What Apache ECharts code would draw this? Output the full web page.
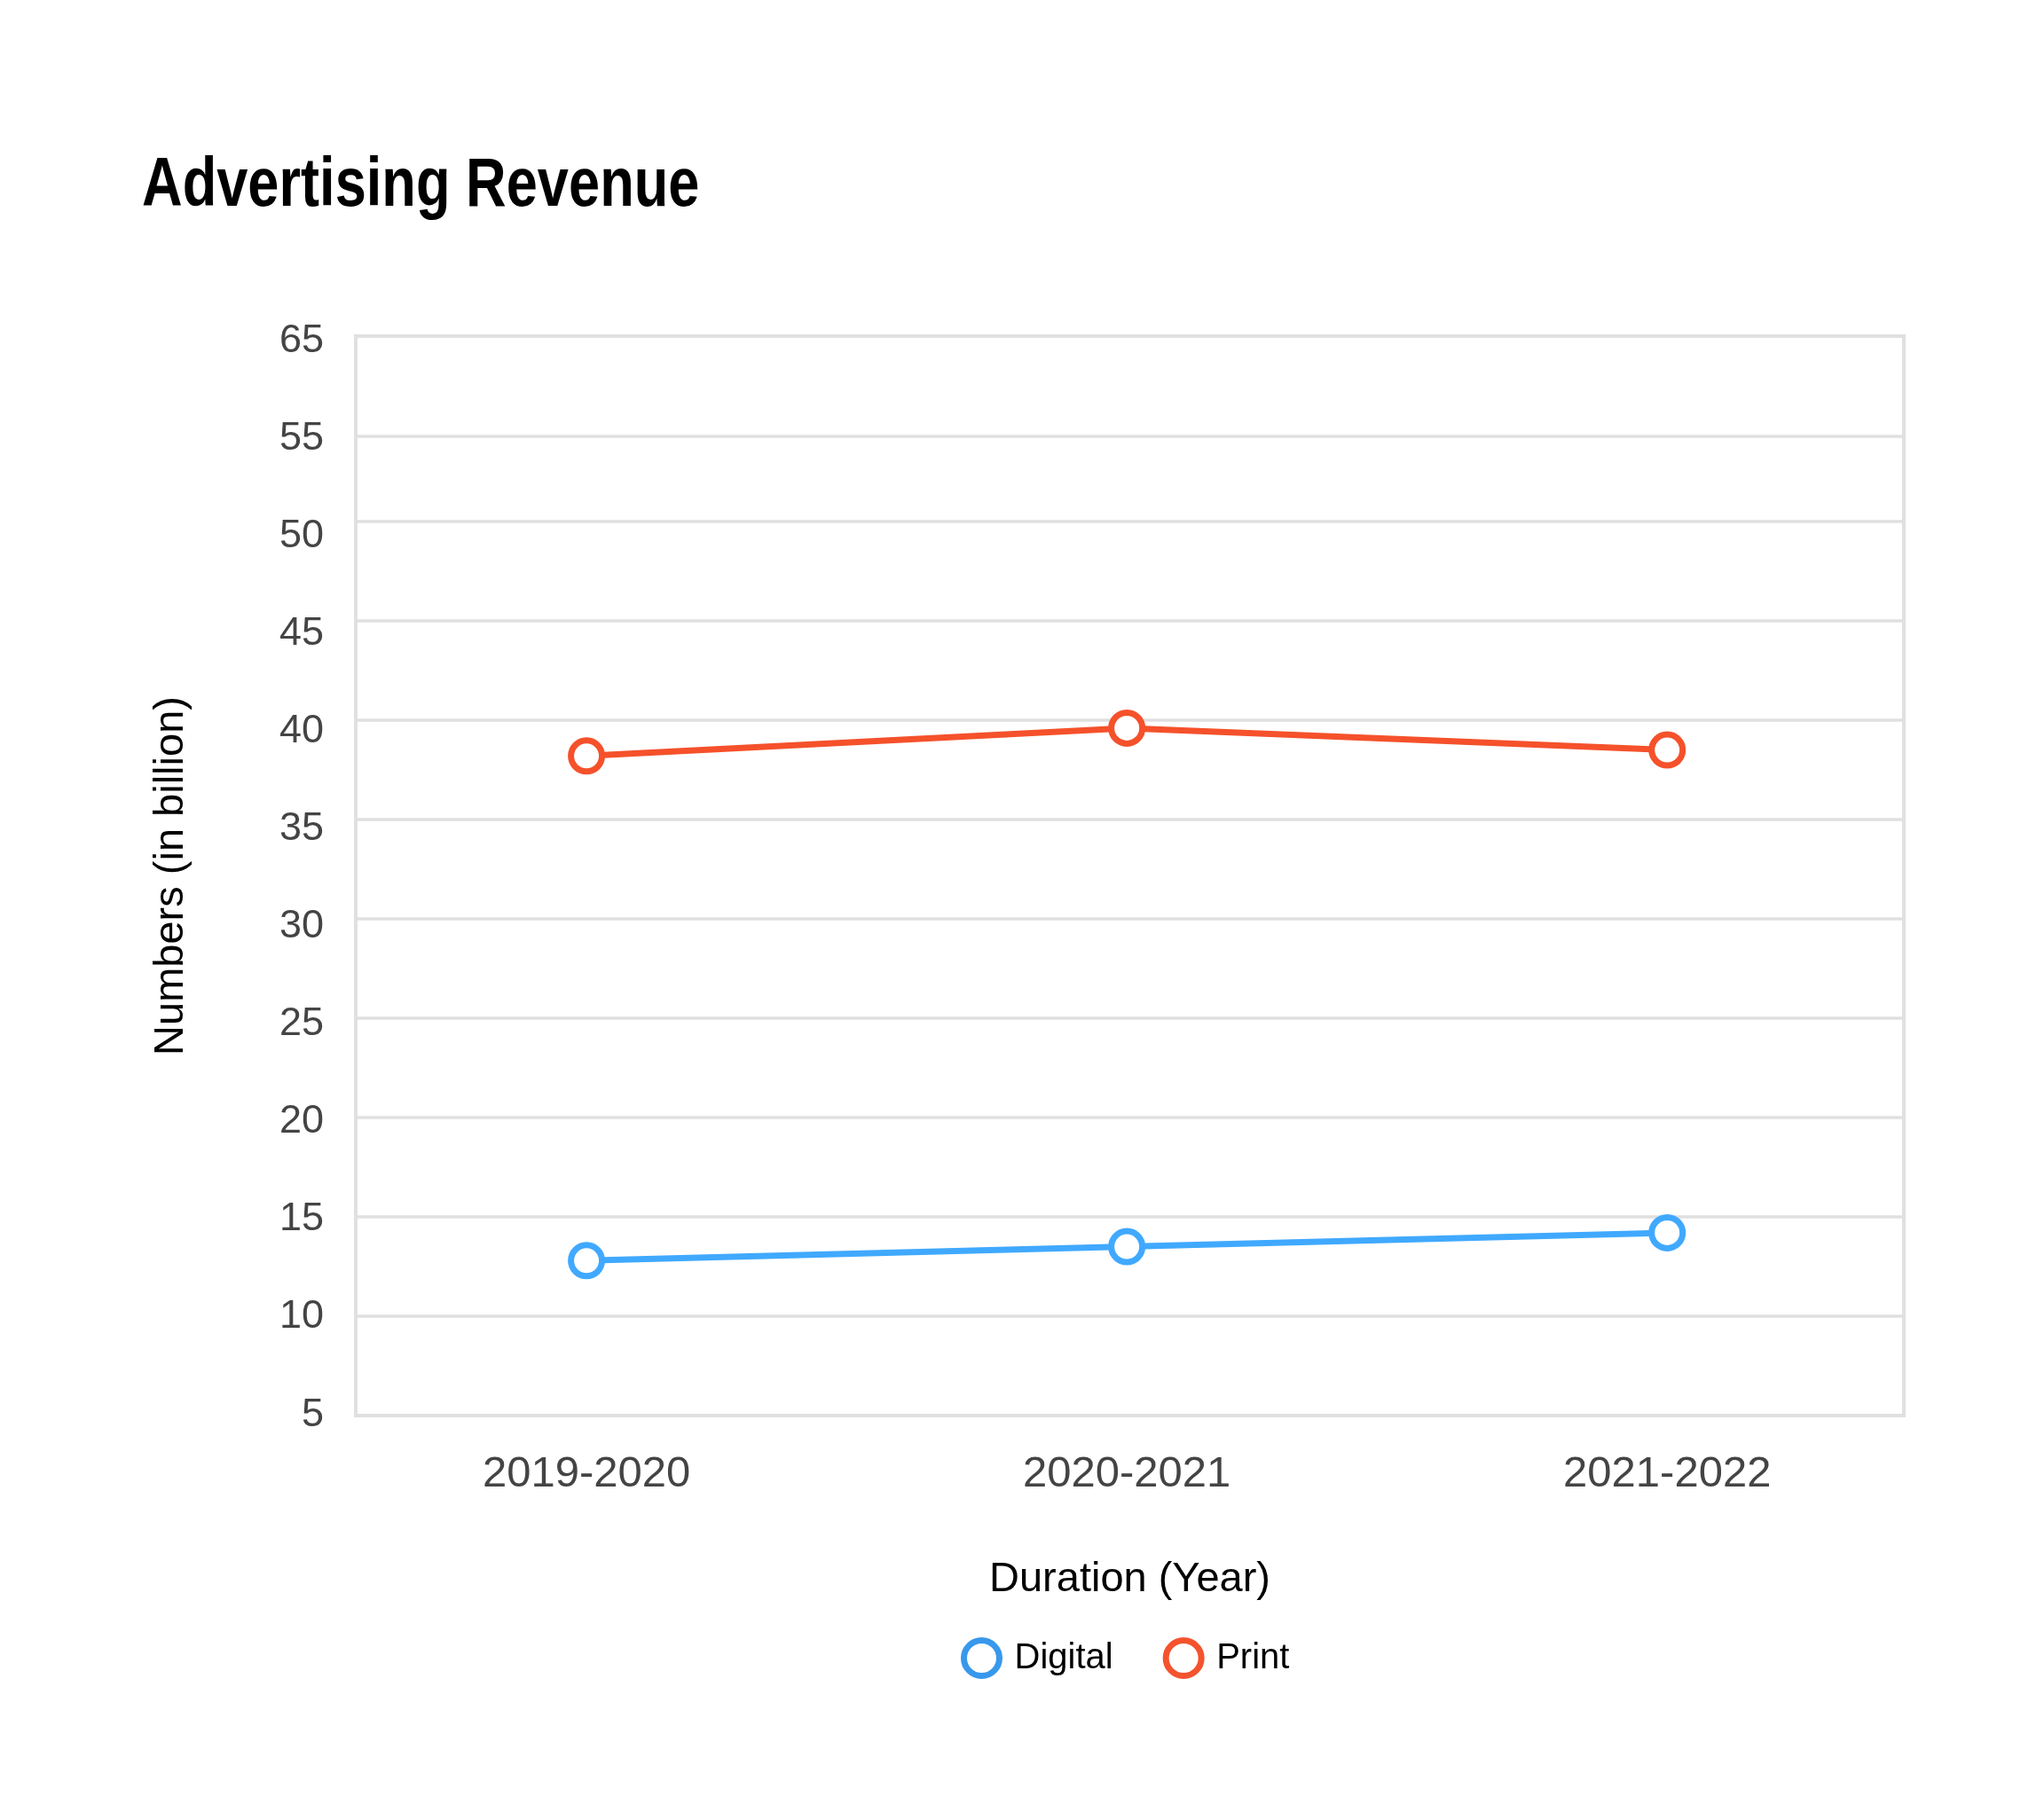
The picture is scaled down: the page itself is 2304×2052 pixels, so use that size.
<!DOCTYPE html>
<html>
<head>
<meta charset="utf-8">
<title>Advertising Revenue</title>
<script src="https://cdn.jsdelivr.net/npm/echarts@6/dist/echarts.min.js"></script>
<style>
    html, body { margin: 0; padding: 0; background: #fff; }
    #container { width: 2304px; height: 2052px; }
</style>
</head>
<body>
<div id="container"></div>
<script>
// 数据
var categories = ['2019-2020', '2020-2021', '2021-2022'];
var digital = [12.8, 13.5, 14.2];
var print = [38.2, 39.6, 38.5];

// y轴刻度文字 (原图刻度就是这样写的)
var yTickLabels = ['5', '10', '15', '20', '25', '30', '35', '40', '45', '50', '55', '65'];
var yLabelAt = [5.04, 9.96, 14.87, 19.78, 24.69, 29.6, 34.51, 39.42, 44.33, 49.24, 54.15, 59.06];
var yGridAt = [10, 15, 20, 25, 30, 35, 40, 45, 50, 54.3];

var font = '"Liberation Sans", Arial, sans-serif';

function pair(list) {
    return list.map(function (v, i) { return [i, v]; });
}

function nearestLabel(value) {
    var best = 0;
    for (var i = 1; i < yLabelAt.length; i++) {
        if (Math.abs(yLabelAt[i] - value) < Math.abs(yLabelAt[best] - value)) best = i;
    }
    return yTickLabels[best];
}

var dom = document.getElementById('container');
var myChart = echarts.init(dom);
var option = {
    backgroundColor: '#fff',
    animation: false,
    // 标题 (横向压缩一点, 原图字体比较窄)
    graphic: [{
        type: 'text',
        x: 160,
        y: 171,
        scaleX: 0.81,
        style: {
            text: 'Advertising Revenue',
            fontFamily: font,
            fontWeight: 'bold',
            fontSize: 78,
            fill: '#000',
            textVerticalAlign: 'top'
        }
    }],
    grid: {
        left: 401,
        right: 158,
        top: 379,
        bottom: 456,
        show: true,
        borderColor: '#e0e0e0',
        borderWidth: 4,
        containLabel: false
    },
    legend: {
        bottom: 154,
        left: 1078,
        itemWidth: 40,
        itemHeight: 40,
        itemGap: 56,
        textStyle: {
            fontFamily: font,
            fontSize: 40,
            color: '#000',
            padding: [0, 0, 0, 12]
        },
        data: [
            { name: 'Digital', icon: 'circle', itemStyle: { color: '#fff', borderColor: '#3898ec', borderWidth: 7 } },
            { name: 'Print', icon: 'circle', itemStyle: { color: '#fff', borderColor: '#f4532d', borderWidth: 7 } }
        ]
    },
    xAxis: {
        type: 'value',
        min: -0.427,
        max: 2.438,
        name: 'Duration (Year)',
        nameLocation: 'middle',
        nameGap: 162,
        nameTextStyle: { fontFamily: font, fontSize: 47, color: '#000' },
        axisLine: { show: false },
        axisTick: { show: false },
        splitLine: { show: false },
        axisLabel: {
            customValues: [0, 1, 2],
            margin: 42,
            fontFamily: font,
            fontSize: 49,
            color: '#444',
            formatter: function (v) { return categories[Math.round(v)]; }
        }
    },
    yAxis: {
        type: 'value',
        min: 5,
        max: 59.33,
        name: 'Numbers (in billion)',
        nameLocation: 'middle',
        nameGap: 184,
        nameTextStyle: { fontFamily: font, fontSize: 47, color: '#000' },
        axisLine: { show: false },
        axisTick: { show: false, customValues: yGridAt },
        splitLine: { show: true, lineStyle: { color: '#e0e0e0', width: 3.5 } },
        axisLabel: {
            customValues: yLabelAt,
            margin: 36,
            fontFamily: font,
            fontSize: 45,
            color: '#444',
            formatter: function (v) { return nearestLabel(v); }
        }
    },
    series: [
        {
            name: 'Digital',
            type: 'line',
            data: pair(digital),
            symbol: 'circle',
            symbolSize: 35,
            lineStyle: { color: '#40a9ff', width: 7 },
            itemStyle: { color: '#fff', borderColor: '#40a9ff', borderWidth: 7 }
        },
        {
            name: 'Print',
            type: 'line',
            data: pair(print),
            symbol: 'circle',
            symbolSize: 35,
            lineStyle: { color: '#f5512b', width: 7 },
            itemStyle: { color: '#fff', borderColor: '#f5512b', borderWidth: 7 }
        }
    ]
};

if (option && typeof option === 'object') {
    myChart.setOption(option);
}
</script>
</body>
</html>
